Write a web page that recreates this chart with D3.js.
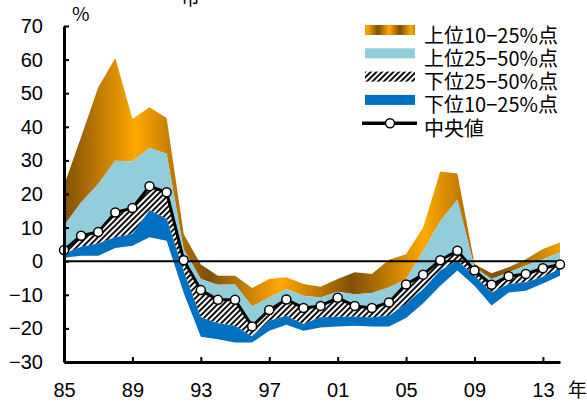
<!DOCTYPE html>
<html>
<head>
<meta charset="utf-8">
<script src="https://cdn.jsdelivr.net/npm/d3@7"></script>
<style>
  body { margin: 0; background: #fff; }
  svg { display: block; }
</style>
</head>
<body>
<svg id="chart"></svg>
<script>
// years 1985..2014
const years = d3.range(1985, 2015);
// upper 10% point (top of gold band)
const p90 = [22.5, 37, 51.7, 60.5, 42.3, 45.8, 42.6, 8, -1, -4.3,
             -4.3, -8, -5.3, -4.8, -6.8, -7.6, -5.3, -3.3, -3.8, 0.4,
             2.1, 10, 26.7, 26.1, -0.8, -3.6, -1.8, 0.6, 3.6, 5.6];
// upper 25% point
const p75 = [10.6, 17.5, 23, 29.9, 29.7, 33.7, 32, 3.5, -5.3, -7,
             -6.9, -13.5, -10.8, -8.3, -10.3, -10.8, -9.1, -9.8, -9.5, -7.8,
             -5.3, 3, 12, 18.3, -1.8, -5.3, -3.3, -1.3, 0.6, 2.6];
// median
const median = [3.3, 7.6, 8.7, 14.5, 15.8, 22.3, 20.5, 0.3, -8.6, -11.5,
                -11.5, -19.4, -14.5, -11.4, -13.9, -13.3, -10.9, -13.3, -13.9, -12.3,
                -6.9, -4.0, 0.3, 3.1, -2.8, -7, -4.5, -3.8, -2.1, -1];
// lower 25% point
const p25 = [2.2, 4.3, 5.3, 7.1, 8.1, 15.2, 12.6, -3, -16.7, -18.5,
             -19.2, -22.4, -17.7, -16.2, -18.7, -16.7, -16.5, -16.5, -16.7, -16.2,
             -12.7, -8.3, -2.8, 0.2, -4.3, -9.3, -6.8, -6.3, -4.6, -2.3];
// lower 10% point
const p10 = [1.0, 1.6, 1.6, 3.9, 4.6, 7.1, 6.1, -9.5, -22.5, -23.2,
             -24.2, -24.2, -20.7, -18.9, -20.7, -19.7, -19.4, -19.2, -19.4, -19.4,
             -16.9, -12.5, -7.3, -2.8, -7.3, -13.2, -9.3, -8.8, -6.6, -4.3];

const xTicks = [1985, 1989, 1993, 1997, 2001, 2005, 2009, 2013];
const yTicks = d3.range(-30, 71, 10);
const legendLabels = ["上位10−25%点", "上位25−50%点", "下位25−50%点", "下位10−25%点", "中央値"];

const width = 587, height = 406;
const plot = { left: 64, right: 560, top: 26, bottom: 362 };

const svg = d3.select("#chart").attr("width", width).attr("height", height);
const defs = svg.append("defs");

// gold repeating gradient
function goldGradient(id, x1, x2) {
    const g = defs.append("linearGradient")
        .attr("id", id)
        .attr("gradientUnits", "userSpaceOnUse")
        .attr("x1", x1).attr("x2", x2).attr("y1", 0).attr("y2", 0)
        .attr("spreadMethod", "reflect");
    g.append("stop").attr("offset", 0).attr("stop-color", "#805006");
    g.append("stop").attr("offset", 1).attr("stop-color", "#ffa800");
}
goldGradient("gold", 64, 136);
goldGradient("goldLegend", 378, 367);

// hatch pattern
const pat = defs.append("pattern")
    .attr("id", "hatch")
    .attr("patternUnits", "userSpaceOnUse")
    .attr("width", 4).attr("height", 4)
    .attr("patternTransform", "rotate(45)");
pat.append("rect").attr("width", 4).attr("height", 4).attr("fill", "#fff");
pat.append("rect").attr("width", 2).attr("height", 4).attr("fill", "#111");

const x = d3.scaleLinear().domain([1985, 2014]).range([plot.left, plot.right]);
const y = d3.scaleLinear().domain([-30, 70]).range([plot.bottom, plot.top]);

const rows = years.map((yr, i) => ({
    year: yr, p90: p90[i], p75: p75[i], med: median[i], p25: p25[i], p10: p10[i]
}));

const bands = [
    { top: "p90", bot: "p75", fill: "url(#gold)" },
    { top: "p75", bot: "med", fill: "#92cddc" },
    { top: "med", bot: "p25", fill: "url(#hatch)" },
    { top: "p25", bot: "p10", fill: "#0070c0" }
];

svg.append("g").selectAll("path")
    .data(bands)
    .join("path")
    .attr("fill", d => d.fill)
    .attr("d", b => d3.area()
        .x(d => x(d.year))
        .y0(d => y(d[b.bot]))
        .y1(d => y(d[b.top]))(rows));

// zero line
svg.append("line")
    .attr("x1", plot.left).attr("x2", plot.right)
    .attr("y1", y(0)).attr("y2", y(0))
    .attr("stroke", "#000").attr("stroke-width", 2);

// median line
svg.append("path")
    .datum(rows)
    .attr("fill", "none")
    .attr("stroke", "#000")
    .attr("stroke-width", 3)
    .attr("stroke-linejoin", "round")
    .attr("d", d3.line().x(d => x(d.year)).y(d => y(d.med)));

svg.append("g").selectAll("circle")
    .data(rows)
    .join("circle")
    .attr("cx", d => x(d.year))
    .attr("cy", d => y(d.med))
    .attr("r", 4.5)
    .attr("fill", "#fff")
    .attr("stroke", "#000")
    .attr("stroke-width", 1.5);

// axes
const yAxis = svg.append("g")
    .attr("transform", `translate(${plot.left},0)`)
    .call(d3.axisLeft(y).tickValues(yTicks).tickSizeInner(-5).tickSizeOuter(0).tickPadding(21));
const xAxis = svg.append("g")
    .attr("transform", `translate(0,${plot.bottom})`)
    .call(d3.axisBottom(x).tickValues(xTicks).tickSizeInner(-5).tickSizeOuter(0).tickPadding(21)
        .tickFormat(d => String(d).slice(2)));

[yAxis, xAxis].forEach(a => {
    a.select(".domain").attr("stroke", "#000").attr("stroke-width", 3);
    a.selectAll(".tick line").attr("stroke", "#000").attr("stroke-width", 2);
    a.selectAll("text")
        .attr("fill", "#000")
        .style("font-family", "'Liberation Sans', Arial, sans-serif")
        .style("font-size", "20px");
});

// unit labels
const cjk = "'Noto Sans CJK JP', sans-serif";
svg.append("text").attr("x", 72).attr("y", 21).text("%")
    .style("font-family", cjk).style("font-size", "19px");
svg.append("text").attr("x", 568).attr("y", 397).text("年")
    .style("font-family", cjk).style("font-size", "19px");
svg.append("text").attr("x", 181).attr("y", 5).text("市")
    .style("font-family", cjk).style("font-size", "19px");

// legend
const legend = svg.append("g");
const legendFills = ["url(#goldLegend)", "#92cddc", "url(#hatch)", "#0070c0"];
const rowY = i => 30 + i * 23.3;
legendLabels.forEach((label, i) => {
    if (i < 4) {
        legend.append("rect")
            .attr("x", 365).attr("y", rowY(i) - 5)
            .attr("width", 50).attr("height", 10)
            .attr("fill", legendFills[i]);
    } else {
        legend.append("line")
            .attr("x1", 362).attr("x2", 417)
            .attr("y1", rowY(i)).attr("y2", rowY(i))
            .attr("stroke", "#000").attr("stroke-width", 3.5);
        legend.append("circle")
            .attr("cx", 390).attr("cy", rowY(i)).attr("r", 4.5)
            .attr("fill", "#fff").attr("stroke", "#000").attr("stroke-width", 1.5);
    }
    legend.append("text")
        .attr("x", 424).attr("y", rowY(i) + 4)
        .attr("dominant-baseline", "central")
        .text(label)
        .style("font-family", cjk)
        .style("font-size", "20px");
});
</script>
</body>
</html>
